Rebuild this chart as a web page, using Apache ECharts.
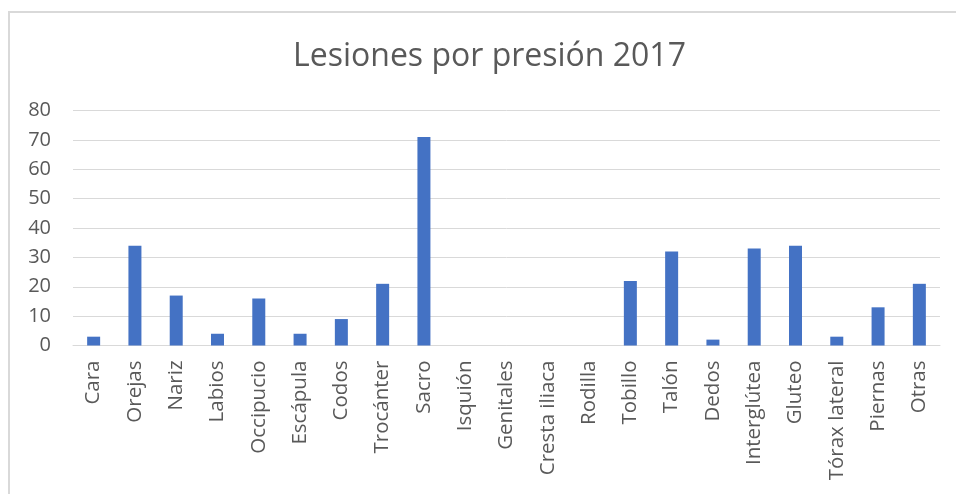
<!DOCTYPE html>
<html>
<head>
<meta charset="utf-8">
<script src="https://cdn.jsdelivr.net/npm/echarts@6/dist/echarts.min.js"></script>
<style>
  html, body { margin: 0; padding: 0; background: #ffffff; }
  #chart { width: 956px; height: 494px; }
</style>
</head>
<body>
<div id="chart"></div>
<script>
// Pressure ulcers by body location, 2017
const titleText = 'Lesiones por presión 2017';
const categories = ['Cara', 'Orejas', 'Nariz', 'Labios', 'Occipucio', 'Escápula', 'Codos',
  'Trocánter', 'Sacro', 'Isquión', 'Genitales', 'Cresta iliaca', 'Rodilla', 'Tobillo',
  'Talón', 'Dedos', 'Interglútea', 'Gluteo', 'Tórax lateral', 'Piernas', 'Otras'];
const values = [3, 34, 17, 4, 16, 4, 9, 21, 71, 0, 0, 0, 0, 22, 32, 2, 33, 34, 3, 13, 21];
const yTicks = { min: 0, max: 80, interval: 10 };

const textColor = '#595959';
const lineColor = '#d9d9d9';
const fontFamily = '"Open Sans", "Noto Sans", sans-serif';

const chart = echarts.init(document.getElementById('chart'), null, { renderer: 'canvas' });
chart.setOption({
  backgroundColor: '#ffffff',
  animation: false,
  textStyle: { fontFamily: fontFamily },
  graphic: [{
    type: 'rect',
    shape: { x: 9, y: 12, width: 1200, height: 1200 },
    style: { fill: 'none', stroke: lineColor, lineWidth: 2 },
    silent: true
  }],
  title: {
    text: titleText,
    left: 288,
    top: 36,
    textStyle: { fontFamily: fontFamily, fontSize: 32, fontWeight: 'normal', color: textColor }
  },
  grid: { left: 73, right: 16, top: 110.5, bottom: 148.5, containLabel: false },
  xAxis: {
    type: 'category',
    data: categories,
    axisLine: { show: true, lineStyle: { color: lineColor, width: 1 } },
    axisTick: { show: false },
    axisLabel: {
      interval: 0,
      rotate: 90,
      margin: 15,
      color: textColor,
      fontSize: 20.5,
      fontFamily: fontFamily
    }
  },
  yAxis: {
    type: 'value',
    min: yTicks.min,
    max: yTicks.max,
    interval: yTicks.interval,
    axisLine: { show: false },
    axisTick: { show: false },
    splitLine: { show: true, lineStyle: { color: lineColor, width: 1 } },
    axisLabel: { margin: 22, color: textColor, fontSize: 20, fontFamily: fontFamily }
  },
  series: [{
    type: 'bar',
    data: values,
    barWidth: 13,
    itemStyle: { color: '#4472C4' }
  }]
});
</script>
</body>
</html>
